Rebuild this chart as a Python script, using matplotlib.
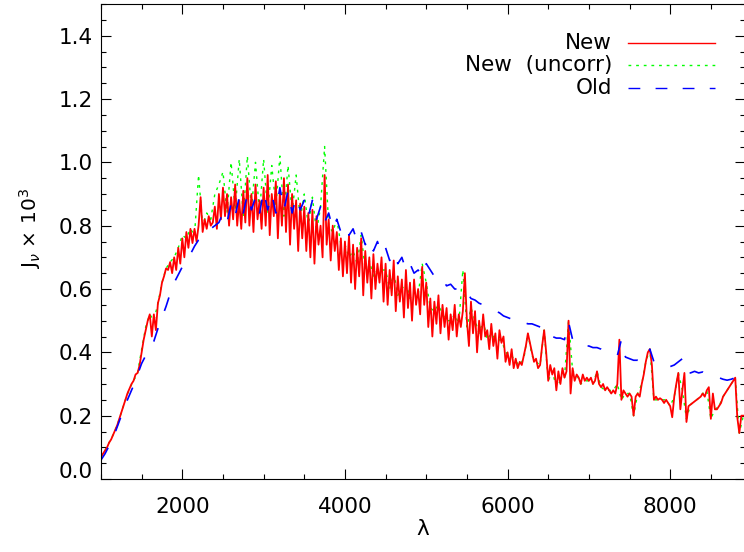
import numpy as np
import matplotlib
matplotlib.use("Agg")
import matplotlib.pyplot as plt
from matplotlib.ticker import MultipleLocator, FormatStrFormatter
from matplotlib.transforms import ScaledTranslation

# wavelength grids (Angstrom)
lam_new = np.arange(1000, 8901, 25)
lam_coarse = np.arange(1000, 8901, 50)

# New (corrected) spectrum, J_nu x 1e3, one row per 250 A
j_new = [
    0.07, 0.08, 0.09, 0.10, 0.115, 0.125, 0.14, 0.155, 0.17, 0.19,
    0.21, 0.23, 0.25, 0.27, 0.285, 0.30, 0.31, 0.33, 0.335, 0.36,
    0.40, 0.44, 0.47, 0.50, 0.52, 0.45, 0.52, 0.47, 0.555, 0.58,
    0.62, 0.64, 0.665, 0.66, 0.685, 0.65, 0.70, 0.66, 0.73, 0.68,
    0.76, 0.70, 0.78, 0.73, 0.79, 0.745, 0.79, 0.75, 0.80, 0.89,
    0.78, 0.82, 0.79, 0.83, 0.80, 0.81, 0.86, 0.79, 0.90, 0.82,
    0.92, 0.83, 0.90, 0.80, 0.89, 0.82, 0.93, 0.80, 0.88, 0.79,
    0.91, 0.81, 0.95, 0.80, 0.90, 0.78, 0.93, 0.82, 0.88, 0.79,
    0.92, 0.80, 0.96, 0.77, 0.90, 0.83, 0.94, 0.76, 0.91, 0.80,
    0.95, 0.78, 0.93, 0.74, 0.90, 0.79, 0.88, 0.72, 0.87, 0.76,
    0.86, 0.72, 0.84, 0.70, 0.85, 0.68, 0.83, 0.74, 0.80, 0.70,
    0.96, 0.74, 0.82, 0.69, 0.80, 0.72, 0.78, 0.66, 0.76, 0.64,
    0.75, 0.65, 0.77, 0.62, 0.74, 0.60, 0.73, 0.64, 0.76, 0.58,
    0.72, 0.62, 0.70, 0.57, 0.71, 0.60, 0.68, 0.62, 0.70, 0.56,
    0.68, 0.55, 0.66, 0.58, 0.69, 0.53, 0.64, 0.56, 0.63, 0.51,
    0.66, 0.54, 0.62, 0.50, 0.63, 0.55, 0.60, 0.52, 0.67, 0.55,
    0.62, 0.48, 0.57, 0.45, 0.56, 0.49, 0.58, 0.46, 0.55, 0.48,
    0.54, 0.44, 0.52, 0.47, 0.55, 0.45, 0.52, 0.48, 0.53, 0.65,
    0.50, 0.42, 0.56, 0.46, 0.53, 0.40, 0.50, 0.44, 0.52, 0.45,
    0.47, 0.41, 0.49, 0.42, 0.46, 0.38, 0.47, 0.43, 0.45, 0.37,
    0.40, 0.36, 0.41, 0.35, 0.38, 0.35, 0.37, 0.36, 0.39, 0.42,
    0.46, 0.43, 0.40, 0.37, 0.38, 0.35, 0.36, 0.42, 0.47, 0.40,
    0.31, 0.36, 0.33, 0.35, 0.28, 0.34, 0.30, 0.35, 0.32, 0.34,
    0.50, 0.27, 0.35, 0.31, 0.33, 0.32, 0.30, 0.33, 0.31, 0.32,
    0.31, 0.32, 0.30, 0.31, 0.34, 0.30, 0.29, 0.30, 0.28, 0.29,
    0.28, 0.27, 0.28, 0.27, 0.30, 0.44, 0.25, 0.28, 0.27, 0.26,
    0.27, 0.26, 0.20, 0.26, 0.27, 0.26, 0.30, 0.33, 0.37, 0.40,
    0.41, 0.36, 0.25, 0.26, 0.25, 0.255, 0.25, 0.24, 0.25, 0.24,
    0.23, 0.195, 0.26, 0.30, 0.335, 0.22, 0.28, 0.335, 0.18, 0.23,
    0.235, 0.24, 0.245, 0.25, 0.255, 0.26, 0.27, 0.26, 0.28, 0.29,
    0.19, 0.27, 0.22, 0.22, 0.23, 0.24, 0.26, 0.27, 0.28, 0.29,
    0.30, 0.31, 0.32, 0.195, 0.145, 0.20, 0.20,
]

# New, uncorrected, one row per 500 A
j_uncorr = [
    0.07, 0.09, 0.115, 0.14, 0.17, 0.21, 0.25, 0.285, 0.31, 0.335,
    0.41, 0.48, 0.52, 0.50, 0.555, 0.62, 0.665, 0.685, 0.70, 0.73,
    0.77, 0.76, 0.79, 0.77, 0.96, 0.80, 0.84, 0.82, 0.90, 0.93,
    0.97, 0.84, 1.00, 0.85, 1.01, 0.83, 1.02, 0.85, 1.00, 0.84,
    1.01, 0.84, 0.99, 0.86, 1.02, 0.83, 0.99, 0.84, 0.96, 0.82,
    0.90, 0.80, 0.89, 0.78, 0.86, 1.05, 0.80, 0.78, 0.82, 0.74,
    0.74, 0.70, 0.72, 0.68, 0.77, 0.66, 0.69, 0.64, 0.66, 0.66,
    0.66, 0.60, 0.65, 0.58, 0.60, 0.62, 0.57, 0.59, 0.58, 0.68,
    0.62, 0.54, 0.53, 0.55, 0.52, 0.50, 0.50, 0.52, 0.49, 0.66,
    0.48, 0.54, 0.50, 0.46, 0.50, 0.44, 0.46, 0.44, 0.44, 0.42,
    0.39, 0.39, 0.37, 0.36, 0.38, 0.46, 0.39, 0.37, 0.36, 0.47,
    0.31, 0.34, 0.29, 0.31, 0.32, 0.50, 0.34, 0.33, 0.30, 0.31,
    0.31, 0.30, 0.34, 0.29, 0.28, 0.28, 0.28, 0.30, 0.25, 0.27,
    0.27, 0.20, 0.27, 0.30, 0.37, 0.41, 0.25, 0.25, 0.25, 0.25,
    0.23, 0.26, 0.335, 0.28, 0.19, 0.235, 0.245, 0.255, 0.27, 0.28,
    0.19, 0.22, 0.23, 0.26, 0.28, 0.30, 0.32, 0.145, 0.20,
]

# Old spectrum, one row per 500 A
j_old = [
    0.06, 0.08, 0.105, 0.13, 0.165, 0.20, 0.235, 0.265, 0.295, 0.33,
    0.365, 0.39, 0.41, 0.435, 0.475, 0.51, 0.545, 0.585, 0.62, 0.645,
    0.67, 0.69, 0.71, 0.735, 0.755, 0.765, 0.78, 0.79, 0.80, 0.81,
    0.84, 0.81, 0.87, 0.83, 0.89, 0.84, 0.90, 0.85, 0.89, 0.84,
    0.91, 0.85, 0.90, 0.84, 0.92, 0.85, 0.91, 0.84, 0.89, 0.85,
    0.88, 0.83, 0.88, 0.82, 0.86, 0.81, 0.84, 0.79, 0.82, 0.78,
    0.80, 0.77, 0.79, 0.75, 0.78, 0.74, 0.76, 0.72, 0.75, 0.71,
    0.73, 0.69, 0.715, 0.68, 0.70, 0.66, 0.68, 0.65, 0.66, 0.64,
    0.68, 0.66, 0.64, 0.625, 0.63, 0.61, 0.615, 0.60, 0.60, 0.585,
    0.59, 0.57, 0.565, 0.555, 0.55, 0.545, 0.54, 0.53, 0.525, 0.515,
    0.51, 0.505, 0.51, 0.50, 0.495, 0.49, 0.49, 0.485, 0.48, 0.475,
    0.475, 0.45, 0.445, 0.445, 0.44, 0.495, 0.44, 0.44, 0.425, 0.42,
    0.42, 0.415, 0.415, 0.41, 0.40, 0.40, 0.395, 0.39, 0.44, 0.385,
    0.38, 0.375, 0.375, 0.37, 0.38, 0.41, 0.37, 0.36, 0.355, 0.355,
    0.355, 0.36, 0.37, 0.38, 0.335, 0.335, 0.34, 0.335, 0.338, 0.33,
    0.325, 0.325, 0.32, 0.315, 0.312, 0.315, 0.32, 0.29, 0.29,
]

series_names = ["New", "New  (uncorr)", "Old"]
colors = {"New": "#ff0000", "New  (uncorr)": "#00ff00", "Old": "#0000ff"}
dash_dot = (0, (2.0, 3.5))
dash_long = (0, (8.5, 11.0))

plt.rcParams["font.family"] = "DejaVu Sans"
fig = plt.figure(figsize=(7.44, 5.52), dpi=100)
ax = fig.add_axes([101 / 744, 73 / 552, 644 / 744, 475 / 552])

ax.plot(lam_coarse, j_uncorr, color=colors["New  (uncorr)"], lw=1.0, linestyle=dash_dot)
ax.plot(lam_new, j_new, color=colors["New"], lw=1.3)
ax.plot(lam_coarse, j_old, color=colors["Old"], lw=1.2, linestyle=dash_long)

ax.set_xlim(1000, 8920)
ax.set_ylim(0.0, 1.5)
ax.xaxis.set_minor_locator(MultipleLocator(500))
ax.yaxis.set_minor_locator(MultipleLocator(0.05))
ax.yaxis.set_major_formatter(FormatStrFormatter("%.1f"))
ax.set_yticks(np.arange(0, 1.41, 0.2))
ax.set_xticks([2000, 4000, 6000, 8000])

ax.tick_params(which="both", direction="in", top=True, right=True, width=0.8,
               labelsize=15.5)
ax.tick_params(which="major", length=7.2)
ax.tick_params(which="minor", length=3.6)
ax.tick_params(axis="x", which="major", pad=13)
ax.tick_params(axis="y", which="major", pad=6)
for sp in ax.spines.values():
    sp.set_linewidth(0.8)

# IDL lifts the bottom y label off the x axis
lab0 = ax.get_yticklabels()[0]
lab0.set_transform(lab0.get_transform() + ScaledTranslation(0, 0.09, fig.dpi_scale_trans))

ax.set_xlabel("λ", fontsize=15.5)
ax.xaxis.set_label_coords(0.5, -0.085)
ax.set_ylabel(r"J$_\nu$ $\times$ 10$^3$", fontsize=14.5)
ax.yaxis.set_label_coords(-0.09, 0.528)

# legend, text right-aligned left of the line samples
styles = {"New": "-", "New  (uncorr)": dash_dot, "Old": dash_long}
rows_y = [0.918, 0.871, 0.823]
for name, yy in zip(series_names, rows_y):
    ax.text(0.7935, yy, name, transform=ax.transAxes, ha="right", va="center",
            fontsize=15.5)
    ax.plot([0.818, 0.953], [yy, yy], transform=ax.transAxes, color=colors[name],
            lw=1.0, linestyle=styles[name])

fig.savefig("out.png", dpi=100)
